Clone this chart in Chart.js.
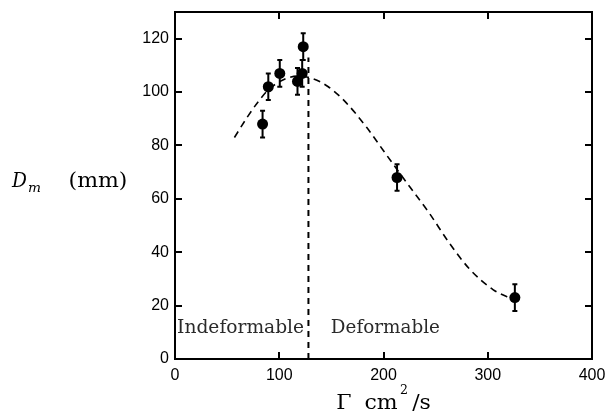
<!DOCTYPE html>
<html>
<head>
<meta charset="utf-8">
<script src="https://cdn.jsdelivr.net/npm/chart.js@4.4.0/dist/chart.umd.min.js"></script>
<style>
  html, body { margin: 0; padding: 0; background: #fff; }
  #wrap { width: 609px; height: 416px; }
</style>
</head>
<body>
<div id="wrap"><canvas id="c" width="609" height="416"></canvas></div>
<script>
// ---- data ----
const xTickValues = [0, 100, 200, 300, 400];
const yTickValues = [0, 20, 40, 60, 80, 100, 120];

const gammaValues    = [84, 89.5, 100.5, 117.5, 122, 123, 213, 326];
const diameterValues = [88, 102, 107, 104, 107, 117, 68, 23];
const errorValues    = [5, 5, 5, 5, 5, 5, 5, 5];

const fitGamma    = [57, 70, 80, 90, 105, 118, 131, 147, 163, 184, 200, 213, 225, 244, 263, 283, 305, 318, 325];
const fitDiameter = [83, 91, 96.5, 101, 104.8, 106, 105.2, 102, 96.5, 86.7, 78, 71, 64.6, 54.6, 43.5, 33.5, 26, 23.4, 22.5];

const thresholdGamma    = [128, 128];
const thresholdDiameter = [0, 113];

const regionLabels = ['Indeformable', 'Deformable'];
const regionLabelGamma = [2, 149.5];
const regionLabelDiameter = [9.8, 9.8];

// ---- helpers ----
// draws text in the box [x, x+width], stretching only slightly and centring the rest
function fitText(ctx, text, font, x, y, width) {
  ctx.save();
  ctx.font = font;
  const w = ctx.measureText(text).width;
  const sx = Math.max(0.9, Math.min(1.1, width / w));
  const drawn = w * sx;
  ctx.translate(x + (width - drawn) / 2, y);
  ctx.scale(sx, 1);
  ctx.fillText(text, 0, 0);
  ctx.restore();
}

// ---- plugins ----
const TICK_LEN = 7;
const framePlugin = {
  id: 'frame',
  afterDatasetsDraw(chart) {
    const { ctx, chartArea: a, scales } = chart;
    ctx.save();
    ctx.strokeStyle = '#000';
    ctx.lineWidth = 2;
    ctx.strokeRect(a.left, a.top, a.right - a.left, a.bottom - a.top);
    ctx.beginPath();
    xTickValues.forEach(v => {
      const px = Math.round(scales.x.getPixelForValue(v));
      if (px <= a.left + 1 || px >= a.right - 1) return;
      ctx.moveTo(px, a.bottom); ctx.lineTo(px, a.bottom - TICK_LEN);
      ctx.moveTo(px, a.top); ctx.lineTo(px, a.top + TICK_LEN);
    });
    yTickValues.forEach(v => {
      const py = Math.round(scales.y.getPixelForValue(v));
      if (py >= a.bottom - 1 || py <= a.top + 1) return;
      ctx.moveTo(a.left, py); ctx.lineTo(a.left + TICK_LEN, py);
      ctx.moveTo(a.right, py); ctx.lineTo(a.right - TICK_LEN, py);
    });
    ctx.stroke();
    ctx.restore();
  }
};

const errorBarPlugin = {
  id: 'errorBars',
  afterDatasetsDraw(chart) {
    const { ctx, scales } = chart;
    ctx.save();
    ctx.strokeStyle = '#000';
    ctx.lineWidth = 2;
    ctx.beginPath();
    gammaValues.forEach((g, i) => {
      const px = scales.x.getPixelForValue(g);
      const top = scales.y.getPixelForValue(diameterValues[i] + errorValues[i]);
      const bot = scales.y.getPixelForValue(diameterValues[i] - errorValues[i]);
      ctx.moveTo(px, top); ctx.lineTo(px, bot);
      ctx.moveTo(px - 2.5, top); ctx.lineTo(px + 2.5, top);
      ctx.moveTo(px - 2.5, bot); ctx.lineTo(px + 2.5, bot);
    });
    ctx.stroke();
    ctx.restore();
  }
};

const textPlugin = {
  id: 'texts',
  afterDraw(chart) {
    const { ctx, scales } = chart;
    ctx.save();
    ctx.textBaseline = 'alphabetic';
    ctx.textAlign = 'left';
    ctx.fillStyle = '#2a2a2a';
    const regionWidths = [127, 109];
    regionLabels.forEach((t, i) => {
      fitText(ctx, t, '18px "DejaVu Serif"',
        scales.x.getPixelForValue(regionLabelGamma[i]),
        scales.y.getPixelForValue(regionLabelDiameter[i]), regionWidths[i]);
    });

    ctx.fillStyle = '#000';
    // y-axis title: D_m (mm)
    fitText(ctx, 'D', 'italic 20px "DejaVu Serif"', 12, 187, 15);
    fitText(ctx, 'm', 'italic 13px "DejaVu Serif"', 28, 192, 13);
    fitText(ctx, '(mm)', '20px "DejaVu Serif"', 63, 187, 70);

    // x-axis title: Γ cm²/s
    fitText(ctx, 'Γ', '20px "DejaVu Serif"', 336, 409, 16);
    fitText(ctx, 'cm', '20px "DejaVu Serif"', 364, 409, 34);
    fitText(ctx, '2', '13px "DejaVu Serif"', 400, 394, 8);
    fitText(ctx, '/s', '20px "DejaVu Serif"', 410, 409, 23);
    ctx.restore();
  }
};

// ---- chart ----
const pointData = gammaValues.map((g, i) => ({ x: g, y: diameterValues[i] }));
const fitData = fitGamma.map((g, i) => ({ x: g, y: fitDiameter[i] }));
const thresholdData = thresholdGamma.map((g, i) => ({ x: g, y: thresholdDiameter[i] }));

new Chart(document.getElementById('c'), {
  type: 'scatter',
  data: {
    datasets: [
      {
        label: 'measurements',
        data: pointData,
        order: 0,
        pointRadius: 5.5,
        pointHoverRadius: 5.5,
        backgroundColor: '#000',
        borderColor: '#000',
        borderWidth: 0
      },
      {
        type: 'line',
        label: 'threshold',
        data: thresholdData,
        order: 1,
        borderColor: '#000',
        borderWidth: 2,
        borderDash: [6, 5],
        pointRadius: 0,
        fill: false
      },
      {
        type: 'line',
        label: 'fit',
        data: fitData,
        order: 2,
        borderColor: '#000',
        borderWidth: 1.6,
        borderDash: [7, 5],
        pointRadius: 0,
        fill: false,
        cubicInterpolationMode: 'monotone'
      }
    ]
  },
  options: {
    responsive: false,
    animation: false,
    events: [],
    layout: { padding: { left: 0, top: 12, right: 17, bottom: 0 } },
    plugins: { legend: { display: false }, tooltip: { enabled: false } },
    scales: {
      x: {
        type: 'linear',
        min: 0, max: 400,
        afterBuildTicks(s) { s.ticks = xTickValues.map(v => ({ value: v })); },
        afterFit(s) { s.height = 57; s.paddingLeft = 0; s.paddingRight = 0; },
        grid: { display: false, drawTicks: false },
        border: { display: false },
        ticks: { color: '#000', padding: 7, maxRotation: 0, font: { family: '"Liberation Sans"', size: 16 } }
      },
      y: {
        type: 'linear',
        min: 0, max: 130,
        afterBuildTicks(s) { s.ticks = yTickValues.map(v => ({ value: v })); },
        afterFit(s) { s.width = 175; s.paddingTop = 0; s.paddingBottom = 0; },
        grid: { display: false, drawTicks: false },
        border: { display: false },
        ticks: { color: '#000', padding: 6, font: { family: '"Liberation Sans"', size: 16 } }
      }
    }
  },
  plugins: [framePlugin, errorBarPlugin, textPlugin]
});
</script>
</body>
</html>
